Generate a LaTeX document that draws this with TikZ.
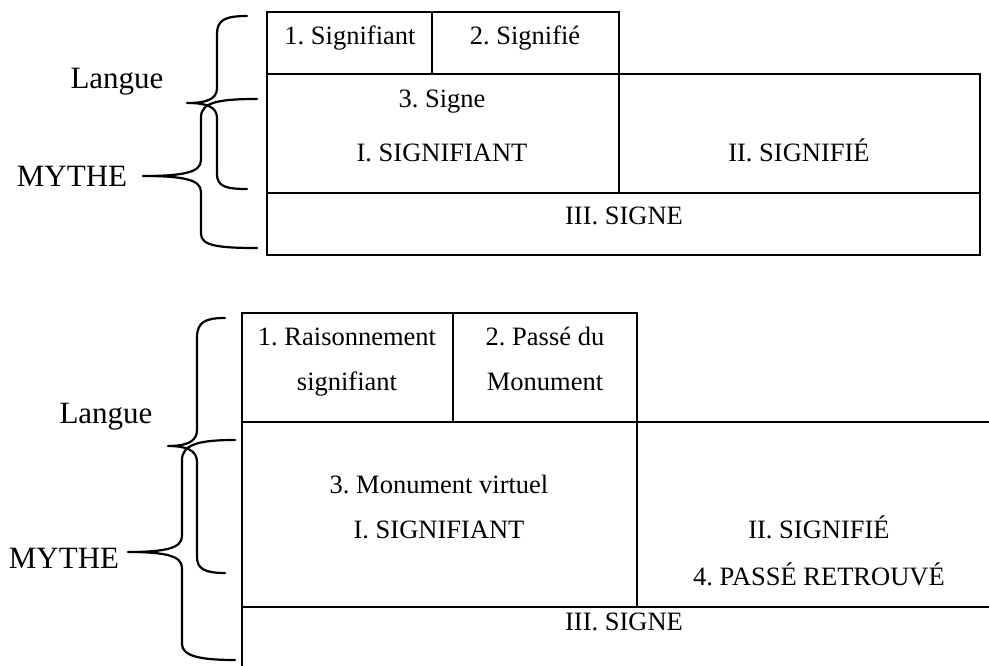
\documentclass[tikz,border=0pt]{standalone}
\usepackage{fontspec}
\setmainfont{Liberation Serif}
\frenchspacing
\begin{document}
\begin{tikzpicture}[x=1pt,y=-1pt,
  rule/.style={line width=2pt},
  bracefig/.style={line width=2.2pt, line join=round, line cap=round},
  celltxt/.style={anchor=base, inner sep=0pt, font=\frenchspacing\fontsize{26.5}{30}\selectfont},
  lbltxt/.style={anchor=base, inner sep=0pt, font=\fontsize{31}{36}\selectfont}]
\useasboundingbox (0,0) rectangle (989,666);
\clip (0,0) rectangle (989,666);
% ---------- top table ----------
\draw[rule] (267,12) rectangle (432,74);
\draw[rule] (432,12) rectangle (619,74);
\draw[rule] (267,74) rectangle (619,193);
\draw[rule] (619,74) rectangle (980,193);
\draw[rule] (267,193) rectangle (980,255);
\node[celltxt] (t1) at (350,45) {1. Signifiant};
\node[celltxt] (t2) at (525,45) {2. Signifié};
\node[celltxt] (t3) at (442,108) {3. Signe};
\node[celltxt] (tI) at (442,162) {I. SIGNIFIANT};
\node[celltxt] (tII) at (799,162) {II. SIGNIFIÉ};
\node[celltxt] (tIII) at (624,225) {III. SIGNE};
\node[lbltxt] (tlang) at (117,89) {Langue};
\node[lbltxt] (tmyth) at (72,187) {MYTHE};
% braces top
\draw[bracefig] (247,16) .. controls (225,16) and (217,20) .. (217,34) -- (217,88)
  .. controls (217,100) and (205,103) .. (187,103)
  .. controls (205,103) and (217,106) .. (217,118) -- (217,174)
  .. controls (217,186) and (225,189) .. (247,189);
\draw[bracefig] (257,99) .. controls (220,99) and (201,102) .. (201,117) -- (201,160)
  .. controls (201,172) and (185,176) .. (143,176)
  .. controls (185,176) and (201,180) .. (201,192) -- (201,234)
  .. controls (201,246) and (220,248) .. (257,248);
% ---------- bottom table ----------
\draw[rule] (242,313) rectangle (453,422);
\draw[rule] (453,313) rectangle (637,422);
\draw[rule] (242,422) rectangle (637,607);
\draw[rule] (637,422) rectangle (1002,607);
\draw[rule] (242,607) rectangle (1002,680);
\node[celltxt] (b1a) at (347,345) {1. Raisonnement};
\node[celltxt] (b1b) at (347,390) {signifiant};
\node[celltxt] (b2a) at (545,345) {2. Passé du};
\node[celltxt] (b2b) at (545,390) {Monument};
\node[celltxt] (b3) at (439,493) {3. Monument virtuel};
\node[celltxt] (bI) at (439,538) {I. SIGNIFIANT};
\node[celltxt] (bII) at (819,538) {II. SIGNIFIÉ};
\node[celltxt] (b4) at (819,585) {4. PASSÉ RETROUVÉ};
\node[celltxt] (bIII) at (624,630) {III. SIGNE};
\node[lbltxt] (blang) at (106,423) {Langue};
\node[lbltxt] (bmyth) at (64,568) {MYTHE};
% braces bottom
\draw[bracefig] (225,318) .. controls (205,318) and (197,322) .. (197,338) -- (197,430)
  .. controls (197,442) and (186,446) .. (168,446)
  .. controls (186,446) and (197,450) .. (197,462) -- (197,557)
  .. controls (197,569) and (205,573) .. (225,573);
\draw[bracefig] (235,440) .. controls (200,440) and (182,444) .. (182,460) -- (182,536)
  .. controls (182,548) and (166,552) .. (128,552)
  .. controls (166,552) and (182,556) .. (182,568) -- (182,644)
  .. controls (182,656) and (200,660) .. (235,660);
\end{tikzpicture}
\end{document}
